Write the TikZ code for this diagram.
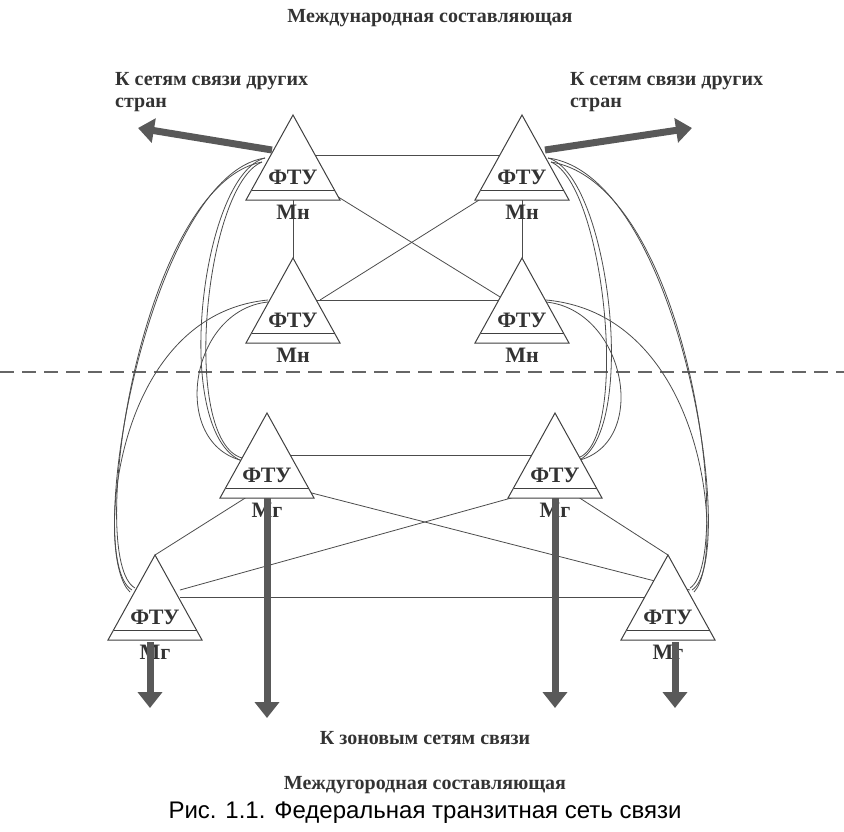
\documentclass[tikz,border=0pt]{standalone}
\usepackage{fontspec}
\setmainfont{Liberation Serif}
\newfontfamily\capfont{Liberation Sans}
\newcommand{\ftu}[4]{% name, apex x, apex y, lower label
  \coordinate (#1) at (#2,#3);
  \draw[tri] (#2,#3) -- ++(-47,85) -- ++(94,0) -- cycle;
  \draw[tri] ($(#2,#3)+(-41.5,75)$) -- ++(83,0);
  \node[lbl] (#1-f) at ($(#2,#3)+(0,62)$) {ФТУ};
  \node[lbl] (#1-m) at ($(#2,#3)+(0,97)$) {#4};
  \coordinate (#1-b) at ($(#2,#3)+(0,85)$);
}
\usetikzlibrary{calc,arrows.meta}
\begin{document}
\begin{tikzpicture}[
    x=1pt, y=-1pt,
    tri/.style={draw=black!75, line width=1pt, fill=white},
    lbl/.style={font=\bfseries\fontsize{22}{22}\selectfont, inner sep=0pt, text=black!80},
    txt/.style={font=\bfseries\fontsize{20}{22}\selectfont, text=black!80, align=left, inner sep=0pt},
    link/.style={draw=black!70, line width=0.8pt},
    fat/.style={draw=black!65, line width=7pt, -{Triangle[length=16pt,width=24pt]}},
  ]
  \useasboundingbox (0,0) rectangle (844,831);
  % dashed boundary
  \draw[draw=black!60, line width=2.5pt, dash pattern=on 14pt off 8pt] (0,372) -- (844,372);
  % links first
  \draw[link] (300,155) -- (520,155);
  \draw[link] (293,200) -- (293,258);
  \draw[link] (522,200) -- (522,258);
  \draw[link] (335,195) -- (505,300);
  \draw[link] (495,190) -- (320,300);
  \draw[link] (300,300) -- (520,300);
  \draw[link] (280,455) -- (540,455);
  \draw[link] (250,495) -- (155,555);
  \draw[link] (300,490) -- (690,590);
  \draw[link] (540,490) -- (180,590);
  \draw[link] (575,495) -- (668,555);
  \draw[link] (180,597) -- (690,597);
  % curves, left side
  \draw[link] (265,158) .. controls (200,175) and (170,440) .. (245,462);
  \draw[link] (262,162) .. controls (205,185) and (180,440) .. (242,458);
  \draw[link] (265,158) .. controls (150,175) and (80,560) .. (132,590);
  \draw[link] (262,162) .. controls (140,185) and (85,560) .. (135,588);
  \draw[link] (268,300) .. controls (110,315) and (95,560) .. (130,592);
  \draw[link] (268,302) .. controls (190,310) and (170,440) .. (240,460);
  % curves, right side
  \draw[link] (548,158) .. controls (610,175) and (640,440) .. (575,462);
  \draw[link] (551,162) .. controls (605,185) and (630,440) .. (578,458);
  \draw[link] (548,158) .. controls (680,175) and (740,560) .. (692,590);
  \draw[link] (551,162) .. controls (690,185) and (735,560) .. (690,588);
  \draw[link] (546,300) .. controls (710,315) and (725,560) .. (694,592);
  \draw[link] (546,302) .. controls (625,310) and (650,440) .. (580,460);
  % stations
  \ftu{t1}{293}{115}{Мн}
  \ftu{t2}{522}{115}{Мн}
  \ftu{t3}{293}{258}{Мн}
  \ftu{t4}{522}{258}{Мн}
  \ftu{t5}{267}{413}{Мг}
  \ftu{t6}{555}{413}{Мг}
  \ftu{t7}{155}{555}{Мг}
  \ftu{t8}{668}{555}{Мг}
  % outgoing trunks
  \coordinate (o1) at (138,128); \coordinate (o2) at (692,128);
  \coordinate (d5) at (267,718); \coordinate (d6) at (555,708);
  \coordinate (d7) at (150,708); \coordinate (d8) at (675,708);
  \draw[fat] (272,150) -- (o1);
  \draw[fat] (545,150) -- (o2);
  \draw[fat] (t5-b) -- (d5);
  \draw[fat] (t6-b) -- (d6);
  \draw[fat] (150,642) -- (d7);
  \draw[fat] (675,642) -- (d8);
  % texts
  \node[txt] (top) at (430,18) {Международная составляющая};
  \node[txt, anchor=north west] (lt) at (115,72) {К сетям связи других\\стран};
  \node[txt, anchor=north west] (rt) at (570,72) {К сетям связи других\\стран};
  \node[txt] (zone) at (425,738) {К зоновым сетям связи};
  \node[txt] (bot) at (425,785) {Междугородная составляющая};
  \node[font=\capfont\fontsize{24}{24}\selectfont, inner sep=0pt] (cap) at (425,813) {Рис. 1.1. Федеральная транзитная сеть связи};
\end{tikzpicture}
\end{document}
